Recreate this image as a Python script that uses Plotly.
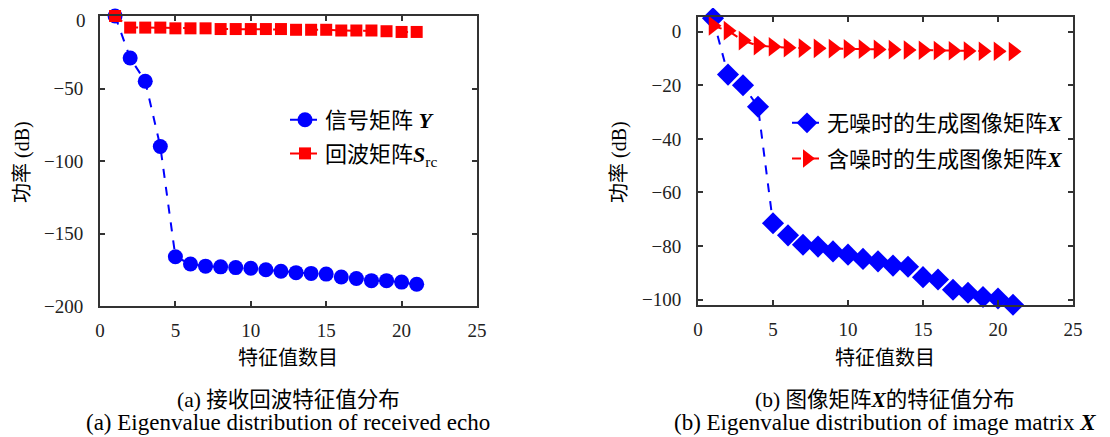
import plotly.graph_objects as go

# ---- data ----
idx = list(range(1, 22))
sig_Y = [0, -29, -45, -90, -166, -171, -172.5, -173, -173.5, -174, -175, -176, -177, -177.5, -178, -180, -181, -182.5, -182.5, -183.5, -185]
echo_S = [0, -8, -8, -8, -8.5, -8.5, -8.5, -9, -9, -9, -9, -9, -9.5, -9.5, -9.5, -10, -10, -10, -10.5, -11, -11]
X_clean = [5, -16, -20, -28, -71.5, -76, -79.5, -80.2, -82, -83.2, -84.8, -85.7, -87.3, -87.7, -91.6, -92.5, -96.3, -97.4, -99, -99.6, -101.9]
X_noisy = [2.2, 0.4, -3.3, -5.2, -5.6, -6, -6.1, -6.2, -6.3, -6.4, -6.5, -6.6, -6.7, -6.8, -6.9, -7, -7.1, -7.2, -7.3, -7.3, -7.4]

left_yticks = [-200, -150, -100, -50, 0]
left_ytext = ["\u2212200", "\u2212150", "\u2212100", "\u221250", ""]   # "0" drawn separately (sits at the page top)
left_ytop_label = "0"

# page body has an 8px margin, so the figure is sized to fit the window
OFF = 8
W, H = 1110 - OFF, 437 - OFF
FONT = "Liberation Serif, Noto Sans CJK SC, serif"
AX = "#333333"

def px(x):
    return (x - OFF) / W

def py(y):
    return 1 - (y - OFF) / H

fig = go.Figure()

fig.add_trace(go.Scatter(x=idx, y=sig_Y, mode="lines+markers", name="信号矩阵 <b><i>Y</i></b>",
                         line=dict(color="#0000FF", dash="dash", width=2),
                         marker=dict(symbol="circle", size=15, color="#0000FF"),
                         cliponaxis=False, xaxis="x", yaxis="y", legend="legend", legendgroup="a"))
fig.add_trace(go.Scatter(x=idx, y=echo_S, mode="lines+markers", name="回波矩阵<b><i>S</i></b><sub>rc</sub>",
                         line=dict(color="#FF0000", dash="dash", width=2),
                         marker=dict(symbol="square", size=12, color="#FF0000"),
                         cliponaxis=False, xaxis="x", yaxis="y", legend="legend", legendgroup="b"))
fig.add_trace(go.Scatter(x=idx, y=X_clean, mode="lines+markers", name="无噪时的生成图像矩阵<b><i>X</i></b>",
                         line=dict(color="#0000FF", dash="dash", width=2),
                         marker=dict(symbol="diamond", size=17, color="#0000FF"),
                         cliponaxis=False, xaxis="x2", yaxis="y2", legend="legend2", legendgroup="c"))
fig.add_trace(go.Scatter(x=idx, y=X_noisy, mode="lines+markers", name="含噪时的生成图像矩阵<b><i>X</i></b>",
                         line=dict(color="#FF0000", dash="dash", width=2),
                         marker=dict(symbol="triangle-right", size=17, color="#FF0000"),
                         cliponaxis=False, xaxis="x2", yaxis="y2", legend="legend2", legendgroup="d"))

axcommon = dict(showline=True, linecolor=AX, linewidth=2, mirror="ticks", ticks="inside",
                ticklen=5, tickcolor=AX, tickwidth=1.5, showgrid=False, zeroline=False,
                automargin=False, ticklabeloverflow="allow",
                tickfont=dict(family=FONT, size=19, color="#222222"))

fig.update_layout(
    width=W, height=H, margin=dict(l=0, r=0, t=0, b=0, autoexpand=False),
    paper_bgcolor="white", plot_bgcolor="white",
    font=dict(family=FONT, size=20, color="black"),
    xaxis=dict(domain=[px(100), px(477)], range=[0, 25], dtick=5, anchor="y", ticklabelstandoff=6, **axcommon),
    yaxis=dict(domain=[py(306), py(16)], range=[-200, 0], tickmode="array", tickvals=left_yticks,
               ticktext=left_ytext, anchor="x", ticklabelstandoff=11, **axcommon),
    xaxis2=dict(domain=[px(698), px(1073)], range=[0, 25], dtick=5, anchor="y2", ticklabelstandoff=6, **axcommon),
    yaxis2=dict(domain=[py(305), py(17)], range=[-102, 5.5], dtick=20, anchor="x2", ticklabelstandoff=11, **axcommon),
    legend=dict(x=px(285), y=py(99), xanchor="left", yanchor="top", bgcolor="rgba(0,0,0,0)",
                font=dict(family=FONT, size=22, color="black"), tracegroupgap=2),
    legend2=dict(x=px(787), y=py(102), xanchor="left", yanchor="top", bgcolor="rgba(0,0,0,0)",
                 font=dict(family=FONT, size=22, color="black"), tracegroupgap=4),
    showlegend=True,
)

annots = [
    (22, 162, "功率 (dB)", 90, 20),
    (619, 162, "功率 (dB)", 90, 20),
    (288, 358, "特征值数目", 0, 20),
    (885, 358, "特征值数目", 0, 20),
    (288, 400, "(a) 接收回波特征值分布", 0, 21.5),
    (885, 400, "(b) 图像矩阵<b><i>X</i></b>的特征值分布", 0, 21.5),
    (288, 422, "(a) Eigenvalue distribution of received echo", 0, 23),
    (885, 422, "(b) Eigenvalue distribution of image matrix <b><i>X</i></b>", 0, 23),
]
for x, y, t, rot, fs in annots:
    fig.add_annotation(x=px(x), y=py(y), xref="paper", yref="paper", text=t, showarrow=False,
                       textangle=-rot, xanchor="center", yanchor="middle",
                       font=dict(family=FONT, size=fs, color="black"))

fig.add_annotation(x=px(88), y=py(20), xref="paper", yref="paper", text=left_ytop_label, showarrow=False,
                   xanchor="right", yanchor="middle", font=dict(family=FONT, size=19, color="#222222"))

fig.write_html("out.html")
